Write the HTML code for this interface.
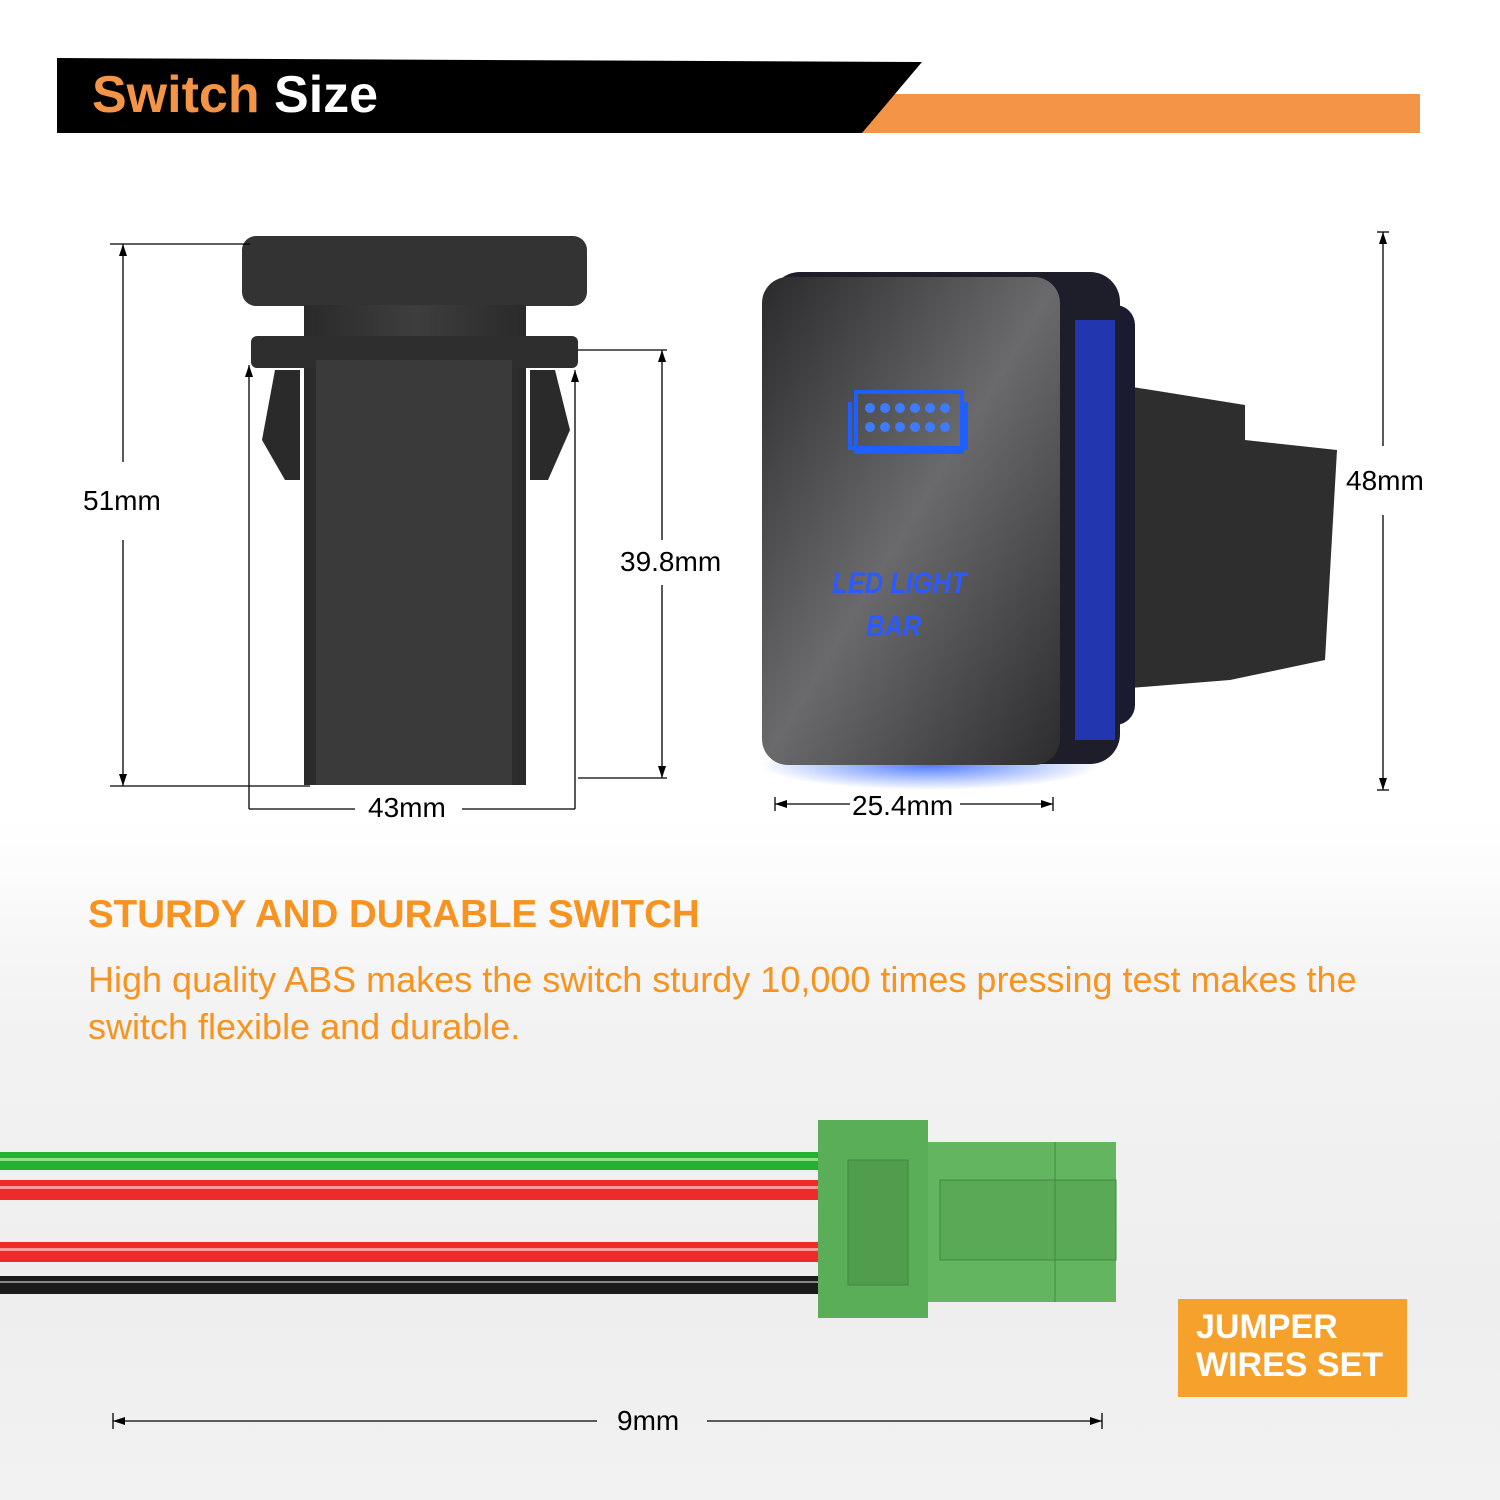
<!DOCTYPE html>
<html><head><meta charset="utf-8"><style>
html,body{margin:0;padding:0}
body{width:1500px;height:1500px;overflow:hidden;background:linear-gradient(#fff 0,#fff 820px,#f3f3f3 1000px,#eeeeee 1300px,#f2f2f2 1500px);font-family:"Liberation Sans",sans-serif;position:relative}
.t{position:absolute;white-space:nowrap}
</style></head><body>
<svg width="1500" height="1500" style="position:absolute;left:0;top:0">
<defs>
<linearGradient id="face" x1="0" y1="0" x2="1" y2="1"><stop offset="0" stop-color="#2a2a2c"/><stop offset="0.5" stop-color="#6a6a6c"/><stop offset="1" stop-color="#2c2c2e"/></linearGradient>
<linearGradient id="bd" x1="0" y1="0" x2="1" y2="0"><stop offset="0" stop-color="#2a2a2a"/><stop offset="0.5" stop-color="#3e3e3e"/><stop offset="1" stop-color="#2a2a2a"/></linearGradient>
<radialGradient id="glow" cx="0.5" cy="0.5" r="0.5"><stop offset="0" stop-color="#3a6cff" stop-opacity="0.9"/><stop offset="1" stop-color="#3a6cff" stop-opacity="0"/></radialGradient>
</defs>
<polygon points="880,94 1420,94 1420,133 862,133" fill="#f39447"/>
<polygon points="57,58 922,62 862,133 57,133" fill="#000"/>
<rect x="242" y="236" width="345" height="70" rx="14" fill="#333"/>
<rect x="304" y="305" width="222" height="480" fill="url(#bd)"/>
<rect x="251" y="336" width="327" height="32" rx="6" fill="#2e2e2e"/>
<polygon points="275,370 300,370 300,480 285,480 262,440" fill="#2a2a2a"/>
<polygon points="530,370 555,370 570,430 548,480 530,480" fill="#2a2a2a"/>
<rect x="316" y="360" width="196" height="425" fill="#3a3a3a"/>
<g stroke="#000" stroke-width="1.3" fill="none">
<line x1="110" y1="244" x2="250" y2="244"/><line x1="110" y1="786" x2="310" y2="786"/>
<line x1="123" y1="244" x2="123" y2="462"/><line x1="123" y1="540" x2="123" y2="786"/>
<line x1="249" y1="365" x2="249" y2="809"/><line x1="575" y1="370" x2="575" y2="809"/>
<line x1="249" y1="809" x2="355" y2="809"/><line x1="462" y1="809" x2="575" y2="809"/>
<line x1="578" y1="350" x2="667" y2="350"/><line x1="578" y1="778" x2="667" y2="778"/>
<line x1="662" y1="350" x2="662" y2="540"/><line x1="662" y1="585" x2="662" y2="778"/>
<line x1="1383" y1="232" x2="1383" y2="446"/><line x1="1383" y1="515" x2="1383" y2="790"/>
<line x1="1377" y1="232" x2="1389" y2="232"/><line x1="1377" y1="790" x2="1389" y2="790"/>
<line x1="775" y1="804" x2="850" y2="804"/><line x1="960" y1="804" x2="1053" y2="804"/>
<line x1="775" y1="797" x2="775" y2="811"/><line x1="1053" y1="797" x2="1053" y2="811"/>
<line x1="113" y1="1421" x2="597" y2="1421"/><line x1="707" y1="1421" x2="1102" y2="1421"/>
<line x1="113" y1="1413" x2="113" y2="1429"/><line x1="1102" y1="1413" x2="1102" y2="1429"/>
</g>
<g fill="#000">
<polygon points="123,244 119,256 127,256"/><polygon points="123,786 119,774 127,774"/>
<polygon points="249,365 245,377 253,377"/><polygon points="575,370 571,382 579,382"/>
<polygon points="662,350 658,362 666,362"/><polygon points="662,778 658,766 666,766"/>
<polygon points="1383,232 1379,244 1387,244"/><polygon points="1383,790 1379,778 1387,778"/>
<polygon points="775,804 787,800 787,808"/><polygon points="1053,804 1041,800 1041,808"/>
<polygon points="113,1421 125,1417 125,1425"/><polygon points="1102,1421 1090,1417 1090,1425"/>
</g>
<polygon points="1120,385 1245,405 1245,440 1337,450 1325,660 1230,680 1105,690" fill="#2e2e2e"/>
<rect x="1090" y="305" width="45" height="420" rx="20" fill="#1a1a30"/>
<ellipse cx="930" cy="765" rx="170" ry="25" fill="url(#glow)"/>
<rect x="770" y="272" width="350" height="492" rx="30" fill="#1e1e2a"/>
<rect x="1075" y="320" width="40" height="420" fill="#2236b0"/>
<rect x="762" y="277" width="298" height="488" rx="26" fill="url(#face)"/>
<g stroke="#1f5eff" stroke-width="4" fill="none">
<path d="M856,392 h106 v60 h-106 z"/><path d="M850,402 v46 h116 v-46"/>
</g>
<g fill="#3d7bff">
<circle cx="870" cy="408" r="5"/><circle cx="885" cy="408" r="5"/><circle cx="900" cy="408" r="5"/><circle cx="915" cy="408" r="5"/><circle cx="930" cy="408" r="5"/><circle cx="945" cy="408" r="5"/>
<circle cx="870" cy="427" r="5"/><circle cx="885" cy="427" r="5"/><circle cx="900" cy="427" r="5"/><circle cx="915" cy="427" r="5"/><circle cx="930" cy="427" r="5"/><circle cx="945" cy="427" r="5"/>
</g>
<rect x="0" y="1152" width="822" height="18" fill="#26b032"/>
<rect x="0" y="1158" width="822" height="3" fill="#8fe08a"/>
<rect x="0" y="1180" width="822" height="20" fill="#ee2a2a"/>
<rect x="0" y="1186" width="822" height="3" fill="#ff9a9a"/>
<rect x="0" y="1242" width="822" height="20" fill="#ee2a2a"/>
<rect x="0" y="1248" width="822" height="3" fill="#ff9a9a"/>
<rect x="0" y="1276" width="822" height="18" fill="#1a1a1a"/>
<rect x="0" y="1281" width="822" height="2" fill="#888"/>
<rect x="818" y="1120" width="110" height="198" fill="#5aae58"/>
<rect x="928" y="1142" width="188" height="160" fill="#63b560"/>
<rect x="848" y="1160" width="60" height="125" fill="#4f9d4d" stroke="#3d8a3b"/>
<rect x="940" y="1180" width="176" height="80" fill="#5aa957" stroke="#3d8a3b"/>
<line x1="1055" y1="1142" x2="1055" y2="1302" stroke="#3d8a3b"/>
<rect x="1178" y="1299" width="229" height="98" fill="#f7a12d"/>
</svg>
<div class="t" style="left:92px;top:65px;font-size:52px;font-weight:bold;color:#f39447">Switch <span style="color:#fff">Size</span></div>
<div class="t" style="left:83px;top:485px;font-size:28px">51mm</div>
<div class="t" style="left:620px;top:546px;font-size:28px">39.8mm</div>
<div class="t" style="left:368px;top:792px;font-size:28px">43mm</div>
<div class="t" style="left:1346px;top:465px;font-size:28px">48mm</div>
<div class="t" style="left:852px;top:790px;font-size:28px">25.4mm</div>
<div class="t" style="left:832px;top:567px;font-size:30px;font-weight:bold;color:#2b5bff;font-style:italic;transform:scaleX(0.85);transform-origin:left">LED LIGHT</div>
<div class="t" style="left:866px;top:610px;font-size:30px;font-weight:bold;color:#2b5bff;font-style:italic;transform:scaleX(0.85);transform-origin:left">BAR</div>
<div class="t" style="left:88px;top:893px;font-size:38.5px;font-weight:bold;color:#f7931e">STURDY AND DURABLE SWITCH</div>
<div class="t" style="left:88px;top:956px;font-size:36px;color:#f7931e;line-height:47px">High quality ABS makes the switch sturdy 10,000 times pressing test makes the<br>switch flexible and durable.</div>
<div class="t" style="left:1196px;top:1308px;font-size:34px;font-weight:bold;color:#fff;line-height:38px">JUMPER<br>WIRES SET</div>
<div class="t" style="left:617px;top:1405px;font-size:28px">9mm</div>
</body></html>
